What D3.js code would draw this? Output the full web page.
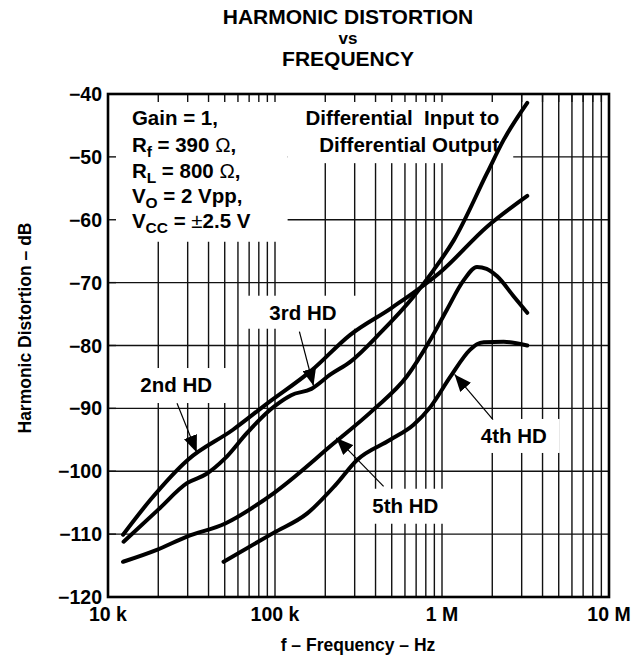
<!DOCTYPE html>
<html>
<head>
<meta charset="utf-8">
<script src="https://cdn.jsdelivr.net/npm/d3@7"></script>
<style>
  body { margin: 0; background: #fff; }
  svg text { font-family: "Liberation Sans", Arial, sans-serif; font-weight: bold; fill: #000; }
</style>
</head>
<body>
<svg id="chart" width="640" height="662"></svg>
<script>
// curve values: frequency (Hz) / distortion (dB)
const hd2Freq = [12.3e3, 18e3, 30e3, 56e3, 90e3, 165e3, 282e3, 500e3, 1e6, 1.86e6, 3.24e6];
const hd2Db   = [-110.1, -104.5, -98.2, -93.4, -89.2, -84.0, -78.3, -74.0, -68.1, -61.1, -56.2];

const hd3Freq = [12.4e3, 20e3, 29.7e3, 39e3, 50e3, 68e3, 90e3, 100e3, 125e3, 165e3, 215e3, 282e3, 427e3, 676e3, 891e3, 1.18e6, 1.86e6, 2.34e6, 3.24e6];
const hd3Db   = [-111.2, -106.1, -101.9, -100.4, -98.0, -93.9, -90.6, -89.6, -87.9, -86.9, -84.6, -82.6, -78.0, -72.2, -68.0, -63.2, -52.6, -47.3, -41.4];

const hd4Freq = [49.2e3, 98e3, 156e3, 230e3, 310e3, 490e3, 676e3, 851e3, 1.12e6, 1.47e6, 1.62e6, 1.78e6, 2.34e6, 3.24e6];
const hd4Db   = [-114.4, -109.8, -106.7, -102.2, -98.2, -95.0, -92.6, -89.8, -85.0, -80.7, -79.8, -79.5, -79.4, -80.0];

const hd5Freq = [12.3e3, 19.6e3, 29.7e3, 50.4e3, 98e3, 224e3, 389e3, 617e3, 851e3, 1.07e6, 1.35e6, 1.62e6, 1.85e6, 2.14e6, 2.69e6, 3.24e6];
const hd5Db   = [-114.4, -112.5, -110.4, -108.3, -103.5, -95.6, -90.2, -84.9, -79.1, -74.3, -69.6, -67.5, -67.8, -69.0, -72.2, -74.8];

const yTicks = [-40, -50, -60, -70, -80, -90, -100, -110, -120];
const xTicks = [1e4, 1e5, 1e6, 1e7];
const xTickLabels = ["10 k", "100 k", "1 M", "10 M"];

const svg = d3.select("#chart");
const pLeft = 108, pRight = 609, pTop = 94, pBottom = 597;

const x = d3.scaleLog().domain([1e4, 1e7]).range([pLeft, pRight]);
const y = d3.scaleLinear().domain([-120, -40]).range([pBottom, pTop]);

// grid, every 1..9 per decade
svg.append("g").selectAll("line").data(x.ticks()).join("line")
  .attr("x1", d => x(d)).attr("x2", d => x(d))
  .attr("y1", pTop).attr("y2", pBottom)
  .attr("stroke", "#111").attr("stroke-width", 1.4);

svg.append("g").selectAll("line").data(yTicks).join("line")
  .attr("x1", pLeft).attr("x2", pRight)
  .attr("y1", d => y(d)).attr("y2", d => y(d))
  .attr("stroke", "#111").attr("stroke-width", 1.4);

// white areas behind the notes
const masks = [
  {f0: 1e4, f1: 1.19e5, d0: -40, d1: -63.5},
  {f0: 1.19e5, f1: 2.67e6, d0: -40, d1: -51.0}
];
svg.append("g").selectAll("rect").data(masks).join("rect")
  .attr("x", d => x(d.f0)).attr("y", d => y(d.d0))
  .attr("width", d => x(d.f1) - x(d.f0))
  .attr("height", d => y(d.d1) - y(d.d0))
  .attr("fill", "#fff");

// short inner ticks along top and left
svg.append("g").selectAll("line").data(x.ticks()).join("line")
  .attr("x1", d => x(d)).attr("x2", d => x(d))
  .attr("y1", pTop).attr("y2", pTop + 8)
  .attr("stroke", "#111").attr("stroke-width", 1.4);
svg.append("g").selectAll("line").data(yTicks).join("line")
  .attr("x1", pLeft).attr("x2", pLeft + 8)
  .attr("y1", d => y(d)).attr("y2", d => y(d))
  .attr("stroke", "#111").attr("stroke-width", 1.4);

// label boxes
const labels = [
  {text: "2nd HD", f: 25.6e3, db: -87.4, w: 110, h: 35, af: 25.9e3, adb: -89.2, tf: 34e3, tdb: -97.0},
  {text: "3rd HD", f: 147e3, db: -75.9, w: 112, h: 33, af: 140e3, adb: -77.8, tf: 170e3, tdb: -86.4},
  {text: "5th HD", f: 603e3, db: -106.6, w: 92, h: 35, af: 447e3, adb: -102.4, tf: 233e3, tdb: -94.7},
  {text: "4th HD", f: 2.69e6, db: -95.5, w: 92, h: 34, af: 2.02e6, adb: -91.8, tf: 1.19e6, tdb: -84.6}
];
svg.append("g").selectAll("rect").data(labels).join("rect")
  .attr("x", d => x(d.f) - d.w / 2)
  .attr("y", d => y(d.db) - 24)
  .attr("width", d => d.w).attr("height", d => d.h)
  .attr("fill", "#fff");

// frame
svg.append("rect")
  .attr("x", pLeft).attr("y", pTop)
  .attr("width", pRight - pLeft).attr("height", pBottom - pTop)
  .attr("fill", "none").attr("stroke", "#000").attr("stroke-width", 2.6);

// curves
const line = d3.line()
  .x(d => x(d[0])).y(d => y(d[1]))
  .curve(d3.curveMonotoneX);

const series = [
  d3.zip(hd2Freq, hd2Db),
  d3.zip(hd3Freq, hd3Db),
  d3.zip(hd4Freq, hd4Db),
  d3.zip(hd5Freq, hd5Db)
];
svg.append("g").selectAll("path").data(series).join("path")
  .attr("d", line)
  .attr("fill", "none").attr("stroke", "#000")
  .attr("stroke-width", 4).attr("stroke-linecap", "round");

// arrows
svg.append("defs").append("marker")
  .attr("id", "head")
  .attr("markerUnits", "userSpaceOnUse")
  .attr("markerWidth", 18).attr("markerHeight", 14)
  .attr("refX", 17).attr("refY", 7)
  .attr("orient", "auto")
  .append("path").attr("d", "M0,0 L17,7 L0,14 Z").attr("fill", "#000");

svg.append("g").selectAll("line").data(labels).join("line")
  .attr("x1", d => x(d.af)).attr("y1", d => y(d.adb))
  .attr("x2", d => x(d.tf)).attr("y2", d => y(d.tdb))
  .attr("stroke", "#000").attr("stroke-width", 1.2)
  .attr("marker-end", "url(#head)");

svg.append("g").selectAll("text").data(labels).join("text")
  .attr("x", d => x(d.f)).attr("y", d => y(d.db))
  .attr("text-anchor", "middle")
  .style("font-size", "20.5px")
  .text(d => d.text);

// conditions note
const note = svg.append("g").style("font-size", "20.5px");
const nx = x(13.9e3);
note.append("text").attr("x", nx).attr("y", y(-44.9)).text("Gain = 1,");

function subLine(yv, main, sub, rest) {
  const t = note.append("text").attr("x", nx).attr("y", y(yv));
  t.append("tspan").text(main);
  t.append("tspan").attr("dy", 5).style("font-size", "15.5px").text(sub);
  rest.forEach((p, i) => {
    t.append("tspan")
      .attr("dy", i === 0 ? -5 : null)
      .style("font-weight", p.n ? "normal" : "bold").text(p.s);
  });
}
subLine(-49.2, "R", "f", [{s: " = 390 "}, {s: "Ω", n: true}, {s: ","}]);
subLine(-53.4, "R", "L", [{s: " = 800 "}, {s: "Ω", n: true}, {s: ","}]);
subLine(-57.3, "V", "O", [{s: " = 2 Vpp,"}]);
subLine(-61.3, "V", "CC", [{s: " = "}, {s: "±", n: true}, {s: "2.5 V"}]);

svg.append("text").attr("x", x(2.2e6)).attr("y", y(-44.9))
  .attr("text-anchor", "end").style("font-size", "20.5px")
  .style("white-space", "pre").text("Differential  Input to");
svg.append("text").attr("x", x(2.2e6)).attr("y", y(-49.2))
  .attr("text-anchor", "end").style("font-size", "20.5px")
  .text("Differential Output");

// tick labels
svg.append("g").selectAll("text").data(yTicks).join("text")
  .attr("x", pLeft - 6).attr("y", d => y(d)).attr("dy", "0.36em")
  .attr("text-anchor", "end").style("font-size", "19.5px")
  .text(d => String(d).replace("-", "\u2212"));

svg.append("g").selectAll("text").data(xTicks).join("text")
  .attr("x", d => x(d)).attr("y", 621)
  .attr("text-anchor", "middle").style("font-size", "19.5px")
  .text((d, i) => xTickLabels[i]);

// titles
svg.append("text").attr("x", 348).attr("y", 23.5).attr("text-anchor", "middle")
  .style("font-size", "21px").text("HARMONIC DISTORTION");
svg.append("text").attr("x", 348).attr("y", 44).attr("text-anchor", "middle")
  .style("font-size", "17px").text("vs");
svg.append("text").attr("x", 348).attr("y", 66).attr("text-anchor", "middle")
  .style("font-size", "21px").text("FREQUENCY");

svg.append("text").attr("x", 358).attr("y", 651).attr("text-anchor", "middle")
  .style("font-size", "17.5px").text("f \u2013 Frequency \u2013 Hz");

svg.append("text")
  .attr("transform", "translate(31,328) rotate(-90)")
  .attr("text-anchor", "middle").style("font-size", "17.5px")
  .text("Harmonic Distortion \u2013 dB");
</script>
</body>
</html>
